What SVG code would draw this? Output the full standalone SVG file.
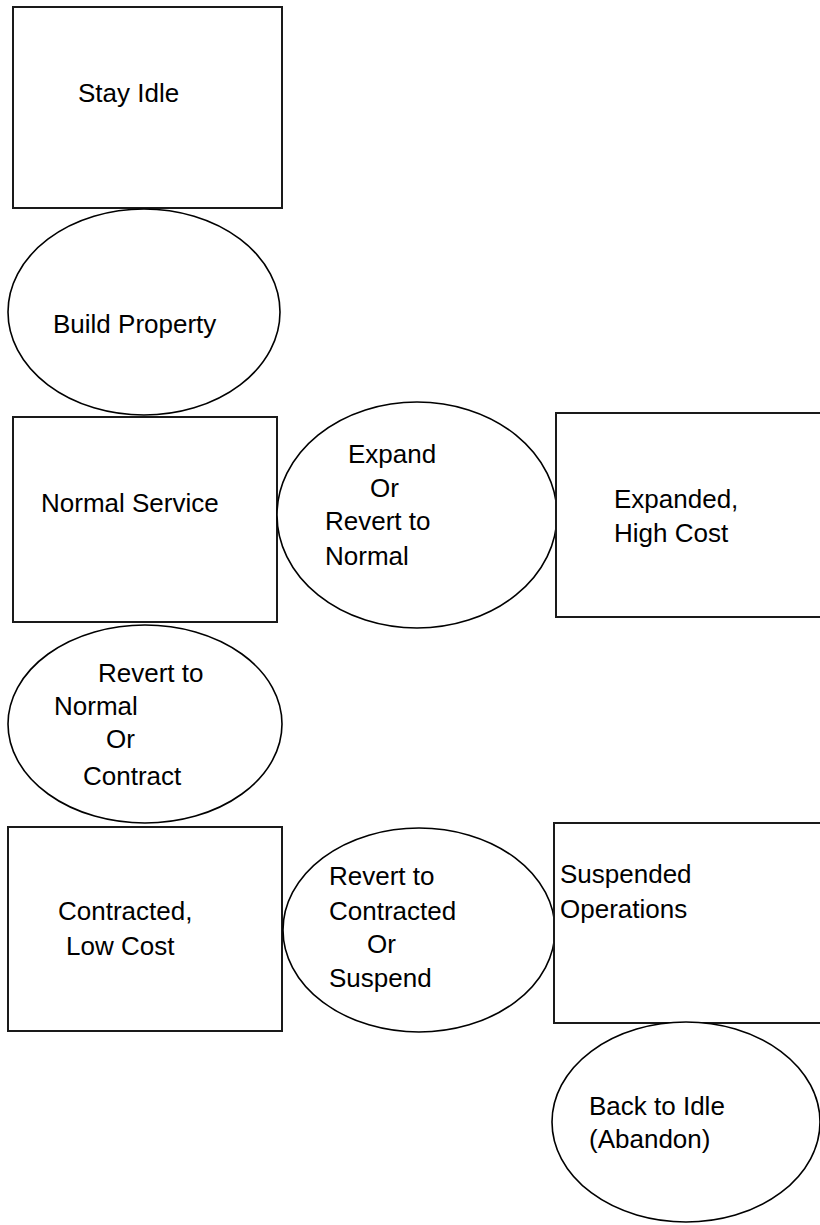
<svg xmlns="http://www.w3.org/2000/svg" width="820" height="1225" viewBox="0 0 820 1225">
<style>
.box{fill:#fff;stroke:#1a1a1a;stroke-width:2}
.ell{fill:#fff;stroke:#000;stroke-width:1.6}
text{font-family:"Liberation Sans",Arial,sans-serif;font-size:26px;fill:#000}
</style>
<rect width="820" height="1225" fill="#fff"/>
<g id="connectors"/>
<g id="stay-idle">
<rect class="box" x="13" y="7" width="269" height="201"/>
<text x="78" y="102">Stay Idle</text>
</g>
<g id="build-property">
<ellipse class="ell" cx="144" cy="312" rx="136" ry="103"/>
<text x="53" y="333">Build Property</text>
</g>
<g id="normal-service">
<rect class="box" x="13" y="417" width="264" height="205"/>
<text x="41" y="512">Normal Service</text>
</g>
<g id="expand-or-revert">
<ellipse class="ell" cx="417" cy="515" rx="140" ry="113"/>
<text x="348" y="463">Expand</text>
<text x="370" y="497">Or</text>
<text x="325" y="530">Revert to</text>
<text x="325" y="565">Normal</text>
</g>
<g id="expanded-high-cost">
<rect class="box" x="556" y="413" width="280" height="204"/>
<text x="614" y="508">Expanded,</text>
<text x="614" y="542">High Cost</text>
</g>
<g id="revert-or-contract">
<ellipse class="ell" cx="145" cy="724" rx="137" ry="99"/>
<text x="98" y="682">Revert to</text>
<text x="54" y="715">Normal</text>
<text x="106" y="748">Or</text>
<text x="83" y="785">Contract</text>
</g>
<g id="contracted-low-cost">
<rect class="box" x="8" y="827" width="274" height="204"/>
<text x="58" y="920">Contracted,</text>
<text x="66" y="955">Low Cost</text>
</g>
<g id="revert-or-suspend">
<ellipse class="ell" cx="419" cy="930" rx="136" ry="102"/>
<text x="329" y="885">Revert to</text>
<text x="329" y="920">Contracted</text>
<text x="367" y="953">Or</text>
<text x="329" y="987">Suspend</text>
</g>
<g id="suspended-operations">
<rect class="box" x="554" y="823" width="280" height="200"/>
<text x="560" y="883">Suspended</text>
<text x="560" y="918">Operations</text>
</g>
<g id="back-to-idle">
<ellipse class="ell" cx="686" cy="1122" rx="134" ry="100"/>
<text x="589" y="1115">Back to Idle</text>
<text x="589" y="1148">(Abandon)</text>
</g>
</svg>
